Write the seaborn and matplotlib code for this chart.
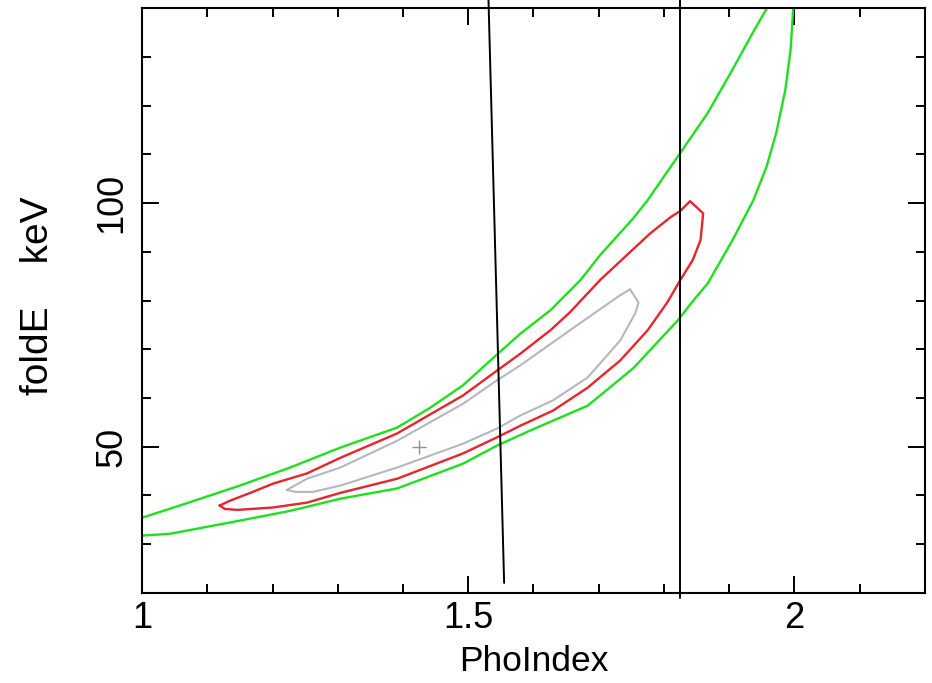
import matplotlib
matplotlib.use("Agg")
import matplotlib.pyplot as plt
from matplotlib.ticker import MultipleLocator, FixedLocator
import seaborn as sns

# ---------------- data ----------------
# outer (green) contour: upper branch from top down to the left edge, then lower branch back up
green_x = [1.963, 1.958, 1.937, 1.902, 1.867, 1.825, 1.796, 1.775, 1.753, 1.702, 1.672,
           1.626, 1.580, 1.544, 1.492, 1.442, 1.391, 1.304, 1.227, 1.150, 1.058, 1.000,
           0.982, 0.982, 0.997, 1.043, 1.150, 1.227, 1.304, 1.391, 1.492, 1.544, 1.595,
           1.683, 1.753, 1.821, 1.845, 1.867, 1.905, 1.937, 1.957, 1.972, 1.986, 1.994,
           1.997, 1.998, 1.999]
green_y = [141.8, 140.1, 135.2, 126.7, 118.5, 110.3, 104.7, 100.6, 96.9, 89.3, 84.2,
           78.0, 73.2, 68.9, 62.6, 58.0, 53.9, 49.8, 45.7, 42.0, 37.9, 35.4,
           34.8, 31.5, 31.7, 32.1, 34.8, 36.8, 39.3, 41.4, 46.5, 50.2, 53.3,
           58.4, 66.1, 75.9, 80.0, 83.5, 92.4, 100.6, 107.4, 114.4, 123.3, 131.5,
           137.7, 140.1, 141.8]

# middle (red) contour, closed
red_x = [1.119, 1.135, 1.166, 1.201, 1.253, 1.304, 1.391, 1.492, 1.544, 1.580, 1.626,
         1.656, 1.702, 1.779, 1.810, 1.825, 1.840, 1.860, 1.856, 1.844, 1.825, 1.805,
         1.775, 1.733, 1.683, 1.630, 1.580, 1.544, 1.492, 1.391, 1.304, 1.253, 1.201,
         1.146, 1.127, 1.119]
red_y = [37.9, 38.9, 40.5, 42.4, 44.5, 47.7, 52.7, 60.5, 65.6, 69.1, 73.9,
         77.6, 84.2, 93.8, 97.1, 98.4, 100.4, 97.9, 92.4, 88.3, 84.2, 79.6,
         73.9, 67.7, 62.1, 57.4, 54.3, 51.9, 48.6, 43.4, 40.5, 38.5, 37.5,
         37.0, 37.2, 37.9]

# inner (gray) contour, closed
gray_x = [1.222, 1.253, 1.304, 1.391, 1.492, 1.544, 1.580, 1.656, 1.733, 1.748, 1.761,
          1.756, 1.733, 1.683, 1.630, 1.580, 1.544, 1.492, 1.391, 1.304, 1.262, 1.235,
          1.222]
gray_y = [41.1, 43.4, 45.7, 51.2, 58.8, 63.6, 66.7, 73.9, 81.1, 82.3, 79.6,
          77.4, 71.8, 64.2, 59.5, 56.4, 53.7, 50.6, 45.7, 42.0, 40.7, 40.7,
          41.1]

# best fit
best_x = [1.425]
best_y = [49.9]

# hand drawn black lines
slant_x = [1.531, 1.555]
slant_y = [141.8, 22.0]
vert_x = [1.825, 1.825]
vert_y = [141.8, 18.9]

x_major = [1, 1.5, 2]
x_labels = ["1", "1.5", "2"]
y_major = [50, 100]
y_labels = ["50", "100"]

# ---------------- figure ----------------
sns.set_theme(style="white")
plt.rcParams['font.family'] = ['Liberation Sans', 'DejaVu Sans']

W, H = 932, 683
fig = plt.figure(figsize=(W / 100, H / 100), dpi=100)
ax = fig.add_axes([142 / W, 1 - 592.7 / H, 783 / W, 584.4 / H])

lw = 1.7
sns.lineplot(x=green_x, y=green_y, sort=False, estimator=None, color="#1ee01e", lw=lw, ax=ax)
sns.lineplot(x=red_x, y=red_y, sort=False, estimator=None, color="#e8242c", lw=lw, ax=ax)
sns.lineplot(x=gray_x, y=gray_y, sort=False, estimator=None, color="#b4b8bc", lw=1.5, ax=ax)
sns.scatterplot(x=best_x, y=best_y, marker="+", s=90, color="#909090", linewidth=1.0, ax=ax)

sns.lineplot(x=slant_x, y=slant_y, sort=False, estimator=None, color="black", lw=1.4,
             ax=ax, clip_on=False)
sns.lineplot(x=vert_x, y=vert_y, sort=False, estimator=None, color="black", lw=1.4,
             ax=ax, clip_on=False)

ax.set_xlim(1, 2.2)
ax.set_ylim(20, 140)

ax.xaxis.set_major_locator(FixedLocator(x_major))
ax.xaxis.set_minor_locator(MultipleLocator(0.1))
ax.yaxis.set_major_locator(FixedLocator(y_major))
ax.yaxis.set_minor_locator(MultipleLocator(10))
ax.set_xticklabels(x_labels)
ax.set_yticklabels(y_labels)

ax.tick_params(which="both", direction="in", top=True, right=True, bottom=True, left=True,
               colors="black", width=1.4)
ax.tick_params(which="major", length=12.2, labelsize=26)
ax.tick_params(which="minor", length=6.5)
ax.tick_params(axis="x", which="major", pad=6)
ax.tick_params(axis="y", which="major", pad=9)
for lbl in ax.get_yticklabels():
    lbl.set_rotation(90)
    lbl.set_va("center")

for s in ax.spines.values():
    s.set_color("black")
    s.set_linewidth(1.5)
    s.set_visible(True)

ax.set_xlabel("PhoIndex", fontsize=25.5, color="black")
ax.set_ylabel("foldE    keV", fontsize=28, color="black")
ax.xaxis.label.set_va("center")
ax.xaxis.set_label_coords(0.5, -0.118)
ax.yaxis.label.set_va("center")
ax.yaxis.set_label_coords(-0.133, 0.508)

fig.savefig("out.png", dpi=100)
